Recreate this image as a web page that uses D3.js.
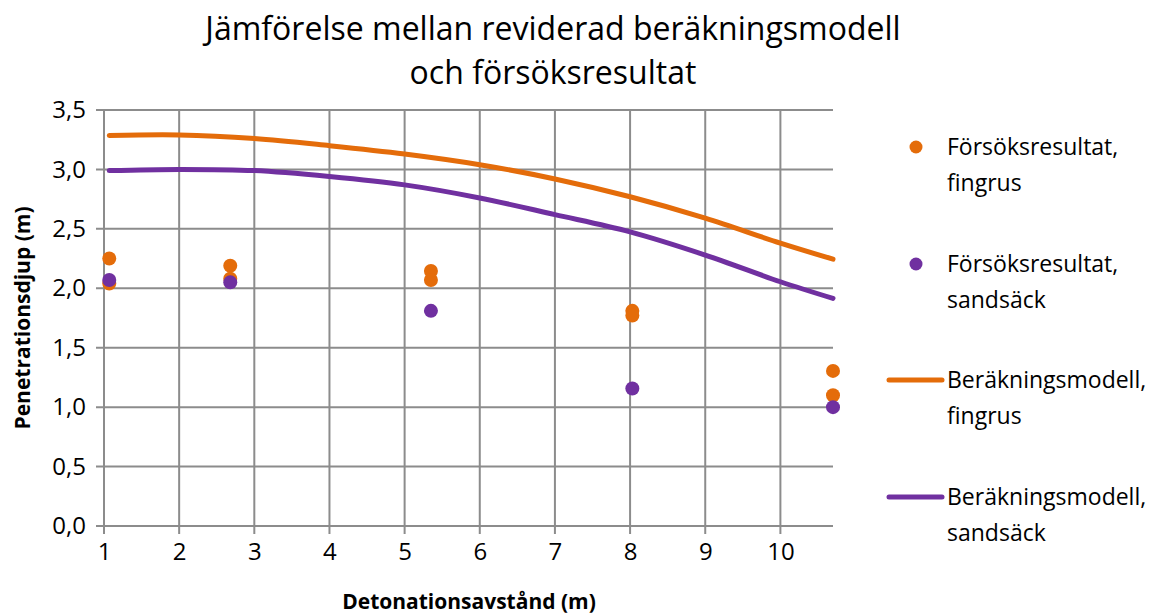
<!DOCTYPE html>
<html>
<head>
<meta charset="utf-8">
<script src="https://cdn.jsdelivr.net/npm/d3@7"></script>
<style>
  body { margin: 0; background: #fff; }
  text { font-family: "Open Sans", "Noto Sans", sans-serif; fill: #000; }
</style>
</head>
<body>
<div id="chart-container"></div>
<script>
// scatter + smoothed model lines, penetration depth vs detonation distance

const xTicks = [1, 2, 3, 4, 5, 6, 7, 8, 9, 10];
const yTicks = [0, 0.5, 1, 1.5, 2, 2.5, 3, 3.5];

// measured results
const fingrusX = [1.07, 1.07, 2.68, 2.68, 5.35, 5.35, 8.03, 8.03, 10.7, 10.7];
const fingrusY = [2.25, 2.04, 2.19, 2.08, 2.145, 2.07, 1.81, 1.77, 1.305, 1.10];
const sandsackX = [1.07, 2.68, 5.35, 8.03, 10.7];
const sandsackY = [2.07, 2.05, 1.81, 1.157, 1.00];

// calculation model
const modelX = [1.07, 2, 3, 4, 5, 6, 7, 8, 9, 10, 10.7];
const modelFingrus = [3.285, 3.29, 3.26, 3.20, 3.13, 3.04, 2.92, 2.77, 2.59, 2.38, 2.245];
const modelSandsack = [2.99, 3.0, 2.99, 2.94, 2.87, 2.76, 2.62, 2.475, 2.28, 2.055, 1.915];

const orange = "#E46C0A";
const purple = "#7030A0";

const svgWidth = 1154;
const svgHeight = 614;
const margin = { top: 110, right: 321, bottom: 88, left: 104 };
const width = svgWidth - margin.left - margin.right;
const height = svgHeight - margin.top - margin.bottom;

const svg = d3.select("#chart-container")
    .append("svg")
    .attr("width", svgWidth)
    .attr("height", svgHeight);

const chart = svg.append("g")
    .attr("transform", `translate(${margin.left},${margin.top})`);

const scaleX = d3.scaleLinear().domain([1, 10.7]).range([0, width]);
const scaleY = d3.scaleLinear().domain([0, 3.5]).range([height, 0]);

// gridlines
chart.append("g")
    .selectAll("line.h")
    .data(yTicks)
    .enter()
    .append("line")
    .attr("x1", -8)
    .attr("x2", width)
    .attr("y1", d => scaleY(d))
    .attr("y2", d => scaleY(d))
    .attr("stroke", "#8c8c8c")
    .attr("stroke-width", 2);

chart.append("g")
    .selectAll("line.v")
    .data(xTicks)
    .enter()
    .append("line")
    .attr("x1", d => scaleX(d))
    .attr("x2", d => scaleX(d))
    .attr("y1", 0)
    .attr("y2", height + 8)
    .attr("stroke", "#8c8c8c")
    .attr("stroke-width", 2);

// axes (labels only, lines drawn as grid)
const yAxis = chart.append("g")
    .call(d3.axisLeft(scaleY).tickValues(yTicks).tickSize(0).tickPadding(18)
        .tickFormat(d => d3.format(".1f")(d).replace(".", ",")));
yAxis.select(".domain").remove();
yAxis.selectAll("text")
    .attr("font-size", "24px")
    .attr("font-family", "'Open Sans', sans-serif");

const xAxis = chart.append("g")
    .attr("transform", `translate(0,${height})`)
    .call(d3.axisBottom(scaleX).tickValues(xTicks).tickSize(0).tickPadding(17));
xAxis.select(".domain").remove();
xAxis.selectAll("text")
    .attr("font-size", "24px")
    .attr("font-family", "'Open Sans', sans-serif");

// model lines
const line = d3.line()
    .x(d => scaleX(d[0]))
    .y(d => scaleY(d[1]))
    .curve(d3.curveCatmullRom.alpha(0.5));

chart.append("path")
    .datum(modelX.map((x, i) => [x, modelFingrus[i]]))
    .attr("d", line)
    .attr("fill", "none")
    .attr("stroke", orange)
    .attr("stroke-width", 5)
    .attr("stroke-linecap", "round");

chart.append("path")
    .datum(modelX.map((x, i) => [x, modelSandsack[i]]))
    .attr("d", line)
    .attr("fill", "none")
    .attr("stroke", purple)
    .attr("stroke-width", 5)
    .attr("stroke-linecap", "round");

// measured points
chart.selectAll("circle.fingrus")
    .data(fingrusX.map((x, i) => [x, fingrusY[i]]))
    .enter()
    .append("circle")
    .attr("cx", d => scaleX(d[0]))
    .attr("cy", d => scaleY(d[1]))
    .attr("r", 7)
    .attr("fill", orange);

chart.selectAll("circle.sandsack")
    .data(sandsackX.map((x, i) => [x, sandsackY[i]]))
    .enter()
    .append("circle")
    .attr("cx", d => scaleX(d[0]))
    .attr("cy", d => scaleY(d[1]))
    .attr("r", 7)
    .attr("fill", purple);

// title
const title = svg.append("text")
    .attr("x", 553)
    .attr("y", 40)
    .attr("text-anchor", "middle")
    .attr("font-size", "32px");
title.append("tspan").attr("x", 553).text("Jämförelse mellan reviderad beräkningsmodell");
title.append("tspan").attr("x", 553).attr("dy", 44).text("och försöksresultat");

// axis titles
svg.append("text")
    .attr("transform", "rotate(-90)")
    .attr("x", -318)
    .attr("y", 30)
    .attr("text-anchor", "middle")
    .attr("font-size", "21px")
    .attr("font-weight", "bold")
    .text("Penetrationsdjup (m)");

svg.append("text")
    .attr("x", 469)
    .attr("y", 609)
    .attr("text-anchor", "middle")
    .attr("font-size", "21px")
    .attr("font-weight", "bold")
    .text("Detonationsavstånd (m)");

// legend
const legendItems = [
    { type: "dot", color: orange, lines: ["Försöksresultat,", "fingrus"], y: 147 },
    { type: "dot", color: purple, lines: ["Försöksresultat,", "sandsäck"], y: 264 },
    { type: "line", color: orange, lines: ["Beräkningsmodell,", "fingrus"], y: 380 },
    { type: "line", color: purple, lines: ["Beräkningsmodell,", "sandsäck"], y: 497 }
];

const legend = svg.append("g");
legendItems.forEach(function(item) {
    if (item.type === "dot") {
        legend.append("circle")
            .attr("cx", 916)
            .attr("cy", item.y)
            .attr("r", 6.5)
            .attr("fill", item.color);
    } else {
        legend.append("line")
            .attr("x1", 889)
            .attr("x2", 942)
            .attr("y1", item.y)
            .attr("y2", item.y)
            .attr("stroke", item.color)
            .attr("stroke-width", 5)
            .attr("stroke-linecap", "round");
    }
    const t = legend.append("text")
        .attr("x", 947)
        .attr("y", item.y + 8)
        .attr("font-size", "23px");
    t.append("tspan").attr("x", 947).text(item.lines[0]);
    t.append("tspan").attr("x", 947).attr("dy", 36).text(item.lines[1]);
});
</script>
</body>
</html>
